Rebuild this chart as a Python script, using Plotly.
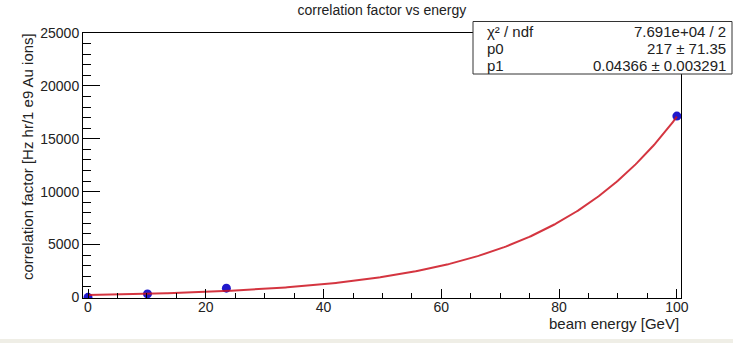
import numpy as np
import plotly.graph_objects as go

# measured points
energy = [0.0, 10.1, 23.5, 100.0]
corr_factor = [0, 330, 870, 17140]

# exponential fit: p0 * exp(p1 * x)
p0 = 217.0
p1 = 0.04366
chi2_text = "7.691e+04 / 2"
p0_text = "217 \u00b1 71.35"
p1_text = "0.04366 \u00b1 0.003291"

W, H = 733, 343
ML, MR, MT, MB = 83, 52, 33, 45
PW, PH = W - ML - MR, H - MT - MB


def px(x):
    return (x - ML) / PW


def py(y):
    return (H - MB - y) / PH


xfit = np.linspace(0, 100, 400)
yfit = p0 * np.exp(p1 * xfit)

font = "Liberation Sans, Arial, sans-serif"

fig = go.Figure()
fig.add_trace(go.Scatter(x=energy, y=corr_factor, mode="markers",
                         marker=dict(color="#2018cc", size=9)))
fig.add_trace(go.Scatter(x=xfit, y=yfit, mode="lines",
                         line=dict(color="rgba(205,18,30,0.85)", width=2), hoverinfo="skip"))

fig.update_layout(
    width=W, height=H,
    margin=dict(l=ML, r=MR, t=MT, b=MB),
    paper_bgcolor="white", plot_bgcolor="white",
    showlegend=False,
    font=dict(family=font, size=14, color="#222"),
    title=dict(text="correlation factor vs energy", x=0.521, xanchor="center",
               y=1 - 10 / H, yanchor="middle", font=dict(size=14)),
)

fig.update_xaxes(
    range=[-0.85, 100.7], showgrid=False, zeroline=False,
    showline=True, linecolor="black", linewidth=1, mirror=True,
    ticks="inside", ticklen=9, tickcolor="black", dtick=20, tick0=0,
    tickfont=dict(size=14), ticklabelstandoff=-4,
    minor=dict(ticks="inside", ticklen=5, dtick=5, tickcolor="black"),
    title=None,
)
fig.update_yaxes(
    range=[-60, 25000], showgrid=False, zeroline=False,
    showline=True, linecolor="black", linewidth=1, mirror=True,
    ticks="inside", ticklen=17, tickcolor="black", dtick=5000, tick0=0,
    tickformat="d", tickfont=dict(size=14),
    minor=dict(ticks="inside", ticklen=8, dtick=1000, tickcolor="black"),
    title=None,
)

# axis titles
fig.add_annotation(text="beam energy [GeV]", xref="paper", yref="paper",
                   x=px(681), y=py(323), xanchor="right", yanchor="middle",
                   showarrow=False, font=dict(size=15))
fig.add_annotation(text="correlation factor [Hz hr/1 e9 Au ions]", xref="paper", yref="paper",
                   x=px(27), y=py(157), xanchor="center", yanchor="middle",
                   textangle=-90, showarrow=False, font=dict(size=15))

# fit statistics box
fig.add_shape(type="rect", xref="paper", yref="paper",
              x0=px(473), x1=px(732), y0=py(74), y1=py(21.5),
              line=dict(color="#333", width=1), fillcolor="white", layer="above")
rows = [("\u03c7\u00b2 / ndf", chi2_text, 31.5), ("p0", p0_text, 48.5), ("p1", p1_text, 65)]
for label, val, yy in rows:
    fig.add_annotation(text=label, xref="paper", yref="paper", x=px(485), y=py(yy),
                       xanchor="left", yanchor="middle", showarrow=False,
                       font=dict(size=15))
    fig.add_annotation(text=val, xref="paper", yref="paper", x=px(728), y=py(yy),
                       xanchor="right", yanchor="middle", showarrow=False,
                       font=dict(size=15))

# light strip along the bottom of the canvas
fig.add_shape(type="rect", xref="paper", yref="paper",
              x0=px(0), x1=px(W), y0=py(343), y1=py(339),
              line=dict(width=0), fillcolor="#efeee6", layer="below")

fig.write_html("out.html")
